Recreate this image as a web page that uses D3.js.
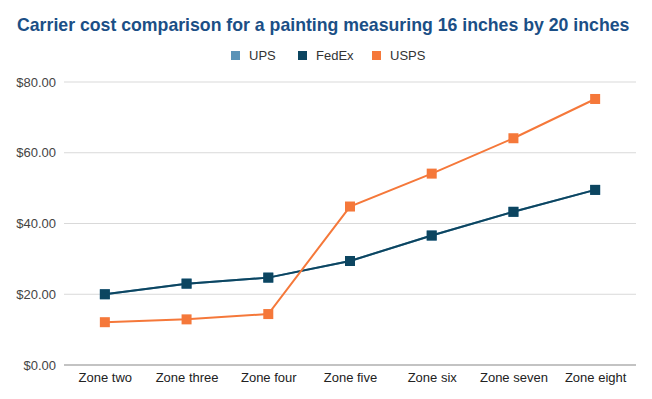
<!DOCTYPE html>
<html>
<head>
<meta charset="utf-8">
<script src="https://cdn.jsdelivr.net/npm/d3@7"></script>
<style>
body { margin: 0; background: #fff; }
svg { font-family: "Liberation Sans", Arial, sans-serif; }
</style>
</head>
<body>
<svg id="chart" width="652" height="399"></svg>
<script>
const zones = ["Zone two", "Zone three", "Zone four", "Zone five", "Zone six", "Zone seven", "Zone eight"];
const upsCost = [20.0, 23.0, 24.7, 29.4, 36.6, 43.3, 49.5];
const fedexCost = [20.0, 23.0, 24.7, 29.4, 36.6, 43.3, 49.5];
const uspsCost = [12.1, 12.9, 14.4, 44.8, 54.1, 64.1, 75.2];
const yTicks = [0, 20, 40, 60, 80];

const series = [
	{name: "UPS", values: upsCost, color: "#5b93b7"},
	{name: "FedEx", values: fedexCost, color: "#0c4560"},
	{name: "USPS", values: uspsCost, color: "#f5783a"}
];

const svg = d3.select("#chart");
const margin = {top: 82, right: 16, bottom: 34, left: 64};
const width = 652 - margin.left - margin.right;
const height = 399 - margin.top - margin.bottom;

// title
svg.append("text")
	.attr("x", 17).attr("y", 31)
	.style("font-size", "17.7px").style("font-weight", "bold")
	.attr("fill", "#1b4f86")
	.text("Carrier cost comparison for a painting measuring 16 inches by 20 inches");

// legend
const legendX = [231, 298, 372];
const legend = svg.append("g");
series.forEach((s, i) => {
	legend.append("rect")
		.attr("x", legendX[i]).attr("y", 51)
		.attr("width", 9).attr("height", 9)
		.attr("fill", s.color);
	legend.append("text")
		.attr("x", legendX[i] + 18).attr("y", 59.5)
		.style("font-size", "13px").attr("fill", "#333")
		.text(s.name);
});

const g = svg.append("g").attr("transform", `translate(${margin.left},${margin.top})`);

const x = d3.scalePoint().domain(zones).range([0, width]).padding(0.5);
const y = d3.scaleLinear().domain([0, 80]).range([height, 0]);

// grid lines
g.selectAll("line.grid")
	.data(yTicks.filter(d => d > 0))
	.enter().append("line")
	.attr("class", "grid")
	.attr("x1", 0).attr("x2", width)
	.attr("y1", d => y(d)).attr("y2", d => y(d))
	.attr("stroke", "#d9d9d9").attr("stroke-width", 1);

// y axis labels
const yAxis = g.append("g")
	.call(d3.axisLeft(y).tickValues(yTicks).tickSize(0).tickPadding(8).tickFormat(d => "$" + d3.format(".2f")(d)));
yAxis.select(".domain").remove();
yAxis.selectAll("text").style("font-size", "13px").attr("fill", "#444").style("font-family", "Liberation Sans, Arial, sans-serif");

// baseline
g.append("line")
	.attr("x1", 0).attr("x2", width)
	.attr("y1", y(0)).attr("y2", y(0))
	.attr("stroke", "#888").attr("stroke-width", 1.2);

// x axis labels
const xAxis = g.append("g")
	.attr("transform", `translate(0,${height})`)
	.call(d3.axisBottom(x).tickSize(0).tickPadding(8));
xAxis.select(".domain").remove();
xAxis.selectAll("text").style("font-size", "13px").attr("fill", "#222").style("font-family", "Liberation Sans, Arial, sans-serif");

// lines and markers
const line = d3.line()
	.x((d, i) => x(zones[i]))
	.y(d => y(d));

series.forEach(s => {
	g.append("path")
		.datum(s.values)
		.attr("fill", "none")
		.attr("stroke", s.color)
		.attr("stroke-width", 2)
		.attr("d", line);
	g.selectAll(null)
		.data(s.values)
		.enter().append("rect")
		.attr("x", (d, i) => x(zones[i]) - 5)
		.attr("y", d => y(d) - 5)
		.attr("width", 10).attr("height", 10)
		.attr("fill", s.color);
});
</script>
</body>
</html>
